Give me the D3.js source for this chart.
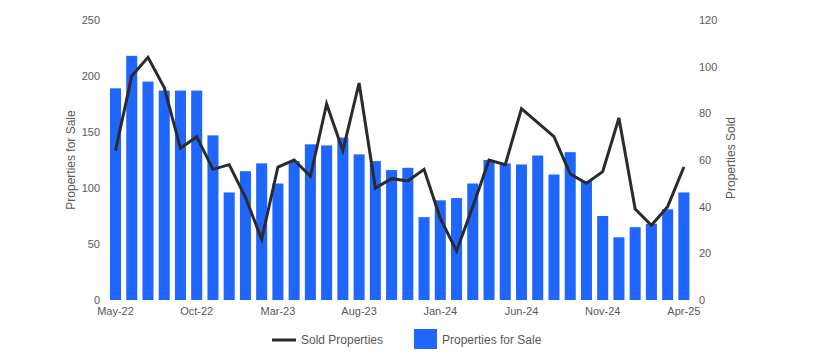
<!DOCTYPE html>
<html><head><meta charset="utf-8">
<script src="https://cdn.jsdelivr.net/npm/d3@7"></script>
<style>body{margin:0;background:#fff}svg{display:block;font-family:"Liberation Sans",Arial,sans-serif}</style>
</head><body><svg id="c" width="815" height="361"></svg>
<script>
const months = ["May-22","Jun-22","Jul-22","Aug-22","Sep-22","Oct-22","Nov-22","Dec-22","Jan-23","Feb-23","Mar-23","Apr-23","May-23","Jun-23","Jul-23","Aug-23","Sep-23","Oct-23","Nov-23","Dec-23","Jan-24","Feb-24","Mar-24","Apr-24","May-24","Jun-24","Jul-24","Aug-24","Sep-24","Oct-24","Nov-24","Dec-24","Jan-25","Feb-25","Mar-25","Apr-25"];
const forSale = [189,218,195,187,187,187,147,96,115,122,104,124,139,138,145,130,124,116,118,74,89,91,104,125,122,121,129,112,132,106,75,56,65,68,81,96];
const sold = [64,96,104,91,65,70,56,58,44,26,57,60,53,84,64,93,48,52,51,56,35,21,40,60,58,82,76,70,54,50,55,78,39,32,40,57];
const leftTicks = [0,50,100,150,200,250];
const rightTicks = [0,20,40,60,80,100,120];
const xTickLabels = ["May-22","Oct-22","Mar-23","Aug-23","Jan-24","Jun-24","Nov-24","Apr-25"];

const svg = d3.select("#c");
const plotTop = 20, plotBottom = 300;
const x = d3.scaleBand().domain(months).range([107.4, 692]).paddingInner(0.32).paddingOuter(0.16);
const yL = d3.scaleLinear().domain([0,250]).range([plotBottom, plotTop]);
const yR = d3.scaleLinear().domain([0,120]).range([plotBottom, plotTop]);
const txt = "#595959";

svg.append("g").selectAll("rect").data(forSale).join("rect")
  .attr("x",(d,i)=>x(months[i])).attr("width",x.bandwidth())
  .attr("y",d=>yL(d)).attr("height",d=>yL(0)-yL(d)).attr("fill","#1f66ff");

const line = d3.line().x((d,i)=>x(months[i])+x.bandwidth()/2).y(d=>yR(d));
svg.append("path").datum(sold).attr("d",line).attr("fill","none")
  .attr("stroke","#2b2b2b").attr("stroke-width",3).attr("stroke-linejoin","miter");

const axL = d3.axisLeft(yL).tickValues(leftTicks).tickSize(0).tickPadding(0);
const gL = svg.append("g").attr("transform","translate(100,0)").call(axL);
const axR = d3.axisRight(yR).tickValues(rightTicks).tickSize(0).tickPadding(0);
const gR = svg.append("g").attr("transform","translate(699,0)").call(axR);
const axB = d3.axisBottom(x).tickValues(xTickLabels).tickSize(0).tickPadding(0);
const gB = svg.append("g").attr("transform","translate(0,307)").call(axB);
[gL,gR,gB].forEach(g=>{g.select(".domain").remove();
  g.selectAll("text").attr("fill",txt).attr("font-size","11px").attr("font-family","Liberation Sans, Arial, sans-serif");});

svg.append("text").attr("transform","translate(75,160) rotate(-90)").attr("text-anchor","middle")
  .attr("fill",txt).attr("font-size","12px").text("Properties for Sale");
svg.append("text").attr("transform","translate(735,158) rotate(-90)").attr("text-anchor","middle")
  .attr("fill",txt).attr("font-size","12px").text("Properties Sold");

const lg = svg.append("g");
lg.append("line").attr("x1",272).attr("x2",296).attr("y1",340).attr("y2",340).attr("stroke","#2b2b2b").attr("stroke-width",3);
lg.append("text").attr("x",301).attr("y",344).attr("fill",txt).attr("font-size","12px").text("Sold Properties");
lg.append("rect").attr("x",414).attr("y",329).attr("width",23).attr("height",20).attr("fill","#1f66ff");
lg.append("text").attr("x",442).attr("y",344).attr("fill",txt).attr("font-size","12px").text("Properties for Sale");
</script></body></html>
